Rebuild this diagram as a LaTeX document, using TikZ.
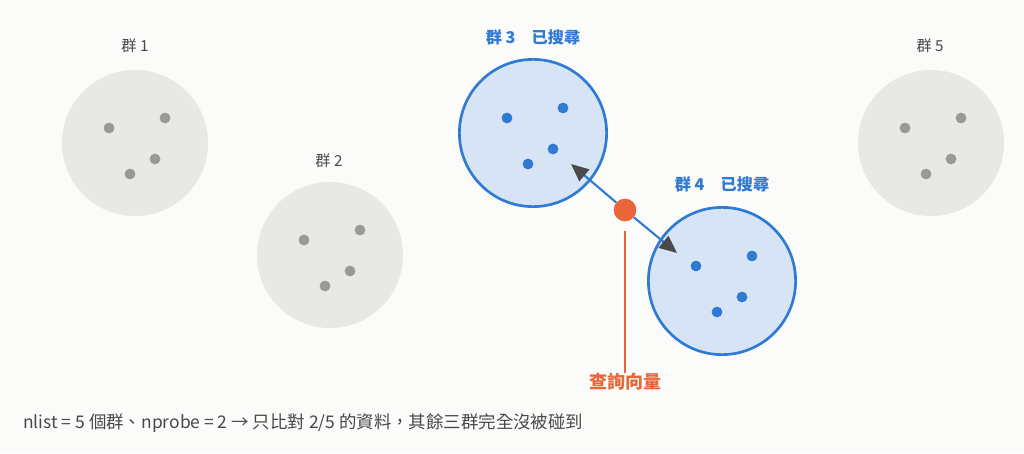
\documentclass[tikz,border=0pt]{standalone}
\usepackage{fontspec}
\setmainfont{Noto Sans CJK TC}
\usetikzlibrary{arrows.meta}
\definecolor{bgcol}{HTML}{FBFBF9}
\definecolor{grpfill}{HTML}{E8E8E5}
\definecolor{ptgray}{HTML}{9A9A93}
\definecolor{bluefill}{HTML}{D6E4F6}
\definecolor{bluedraw}{HTML}{2F7AD3}
\definecolor{qorange}{HTML}{E8663A}
\definecolor{tipgray}{HTML}{4A4A4A}
\definecolor{txtgray}{HTML}{484848}
\tikzstyle{group}=[circle,fill=grpfill,minimum size=3.65cm,inner sep=0pt]
\tikzstyle{probed}=[circle,draw=bluedraw,fill=bluefill,line width=1.9pt,minimum size=3.68cm,inner sep=0pt]
\tikzstyle{pt}=[circle,inner sep=0pt,minimum size=0.27cm]
\tikzstyle{glabel}=[inner sep=0pt,text=txtgray,font=\fontsize{10.8pt}{12pt}\selectfont]
\tikzstyle{plabel}=[inner sep=0pt,text=bluedraw,font=\fontsize{11.5pt}{13pt}\selectfont\bfseries]
\tikzstyle{query}=[circle,fill=qorange,inner sep=0pt,minimum size=0.56cm]
\tikzstyle{qlabel}=[inner sep=0pt,text=qorange,font=\fontsize{12.8pt}{14pt}\selectfont\bfseries]
\tikzstyle{qline}=[draw=qorange,line width=1.4pt,shorten <=0.25cm]
\tikzstyle{dist}=[draw=bluedraw,line width=1.5pt,-{Triangle[length=0.44cm,width=0.38cm,color=tipgray]}]
\tikzstyle{caption}=[inner sep=0pt,text=txtgray,anchor=west,font=\fontsize{12.4pt}{14pt}\selectfont]

\begin{document}
\begin{tikzpicture}[x=0.025cm,y=-0.025cm]
    \path[use as bounding box,fill=bgcol] (0,0) rectangle (1024,453);

    % clusters
    \foreach \g/\x/\y/\s in {1/135/143/group,2/330/255/group,3/533/133/probed,4/722/281/probed,5/931/143/group} {
        \node[\s] (c\g) at (\x,\y) {};
    };
    \foreach \g/\pc in {1/ptgray,2/ptgray,3/bluedraw,4/bluedraw,5/ptgray} {
        \foreach \k/\dx/\dy in {1/-26/-15,2/30/-25,3/20/16,4/-5/31} {
            \node[pt,fill=\pc] (p\g\k) at ([shift={(\dx,\dy)}]c\g) {};
        };
    };

    \node[glabel] (l1) at (135,46) {群 1};
    \node[glabel] (l2) at (329,161) {群 2};
    \node[plabel] (l3) at (533,37) {群 3　已搜尋};
    \node[plabel] (l4) at (722,184) {群 4　已搜尋};
    \node[glabel] (l5) at (930,46) {群 5};

    % query vector
    \coordinate (t3) at (571,164);
    \coordinate (t4) at (677,253);
    \node[query] (q) at (625,210) {};
    \draw[dist] (q) -- (t3);
    \draw[dist] (q) -- (t4);
    \node[query] at (q) {};

    \node[qlabel] (ql) at (625,382) {查詢向量};
    \draw[qline] (q) -- (ql);

    \node[caption] (cap) at (23,423) {nlist = 5 個群、nprobe = 2 → 只比對 2/5 的資料，其餘三群完全沒被碰到};
\end{tikzpicture}
\end{document}
